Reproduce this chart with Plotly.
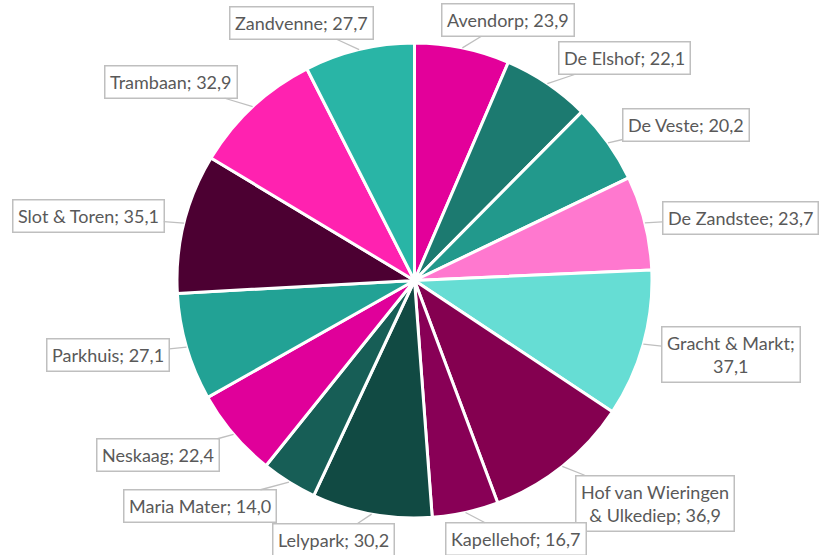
import math
import plotly.graph_objects as go

names = ["Avendorp", "De Elshof", "De Veste", "De Zandstee", "Gracht & Markt",
         "Hof van Wieringen & Ulkediep", "Kapellehof", "Lelypark", "Maria Mater",
         "Neskaag", "Parkhuis", "Slot & Toren", "Trambaan", "Zandvenne"]
values = [23.9, 22.1, 20.2, 23.7, 37.1, 36.9, 16.7, 30.2, 14.0, 22.4, 27.1, 35.1, 32.9, 27.7]
colors = ["#E3009A", "#1C7A70", "#22998C", "#FF78CF", "#66DDD4", "#840050", "#880056",
          "#114A43", "#175E56", "#E0009A", "#22A295", "#4C0032", "#FF22B0", "#29B5A6"]
# label text (line breaks as in the reference)
label_text = ["Avendorp; 23,9", "De Elshof; 22,1", "De Veste; 20,2", "De Zandstee; 23,7",
              "Gracht & Markt;<br>37,1", "Hof van Wieringen<br>& Ulkediep; 36,9",
              "Kapellehof; 16,7", "Lelypark; 30,2", "Maria Mater; 14,0", "Neskaag; 22,4",
              "Parkhuis; 27,1", "Slot & Toren; 35,1", "Trambaan; 32,9", "Zandvenne; 27,7"]
# label box centres in pixels (layout, not data)
label_pos = [(508, 20), (624, 58), (686, 125), (740, 218), (731, 354), (655, 503),
             (516, 539), (333, 540), (200, 506), (158, 455), (108, 355), (88, 216),
             (171, 82), (301, 23)]

W, H = 819, 555
cx, cy, R = 414.5, 280.5, 237.5

fig = go.Figure(go.Pie(
    labels=names, values=values, sort=False, direction="clockwise", rotation=0,
    marker=dict(colors=colors, line=dict(color="white", width=3)),
    textinfo="none", hoverinfo="label+value", showlegend=False,
    domain=dict(x=[(cx - R) / W, (cx + R) / W], y=[(H - cy - R) / H, (H - cy + R) / H]),
))

total = sum(values)
cum = 0.0
annotations = []
for v, txt, (bx, by) in zip(values, label_text, label_pos):
    mid = (cum + v / 2) / total * 2 * math.pi
    cum += v
    px = cx + R * math.sin(mid)
    py = cy - R * math.cos(mid)
    annotations.append(dict(
        x=px / W, y=1 - py / H, xref="paper", yref="paper",
        text=txt, showarrow=True, arrowhead=0, arrowwidth=1.3, arrowcolor="#BFBFBF",
        ax=bx - px, ay=by - py, axref="pixel", ayref="pixel",
        font=dict(family="Lato, sans-serif", size=18, color="#595959"),
        bgcolor="white", bordercolor="#BFBFBF", borderwidth=1.5, borderpad=4.5,
        align="center",
    ))

fig.update_layout(
    width=W, height=H, margin=dict(l=0, r=0, t=0, b=0),
    paper_bgcolor="white", plot_bgcolor="white",
    annotations=annotations,
)
fig.write_html("out.html", config={"displayModeBar": False},
               post_script="document.body.style.margin='0';")
